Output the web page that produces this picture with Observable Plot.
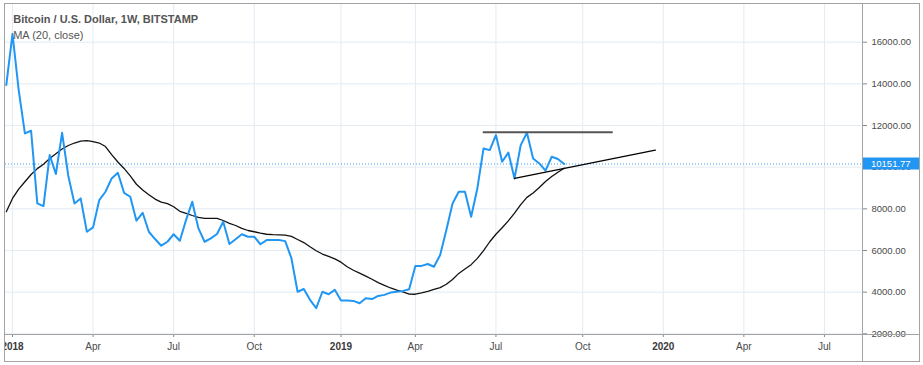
<!DOCTYPE html>
<html><head><meta charset="utf-8">
<script src="https://cdn.jsdelivr.net/npm/d3@7"></script>
<script src="https://cdn.jsdelivr.net/npm/@observablehq/plot@0.6"></script>
<style>
body{margin:0;background:#fff;}
#wrap{position:absolute;left:4px;top:3px;width:914px;height:357px;border:1px solid #a3a3a3;overflow:hidden;}
.sep{position:absolute;background:#a3a3a3;}
</style></head><body><div id="wrap"></div>
<script>
// ---- data (weekly closes, BITSTAMP, bars start Monday) ----
const firstWeek = "2017-12-25";
const closes = [13950,16400,13700,11620,11750,8260,8130,10580,9670,11650,
  9590,8260,8500,6900,7110,8420,8820,9460,9730,8770,
  8580,7430,7810,6900,6550,6230,6420,6780,6470,7460,
  8340,7060,6420,6580,6790,7380,6310,6540,6780,6660,
  6660,6300,6500,6500,6500,6450,5630,4020,4150,3630,
  3230,4020,3900,4110,3600,3600,3580,3470,3710,3670,
  3820,3870,3980,4020,4060,4140,5260,5260,5350,5220,
  5780,6980,8260,8820,8820,7620,8980,10900,10820,11540,
  10260,10700,9460,11060,11650,10420,10180,9830,10500,10390,
  10151.77];
const ma20 = [7860,8500,8950,9300,9650,9930,10140,10420,10640,10870,
  11040,11160,11250,11270,11230,11160,10990,10600,10250,9940,
  9580,9180,8900,8680,8470,8320,8250,8100,7880,7780,
  7680,7590,7540,7540,7540,7440,7300,7200,7060,6960,
  6900,6830,6780,6760,6750,6740,6680,6530,6380,6180,
  5990,5830,5720,5600,5440,5220,5050,4910,4770,4620,
  4460,4330,4200,4100,4010,3910,3900,3960,4040,4130,
  4220,4380,4610,4900,5110,5320,5620,5990,6420,6780,
  7090,7420,7790,8200,8550,8760,9020,9310,9550,9760,
  9950];
const lastPrice = 10151.77;
const yTicks = [2000,4000,6000,8000,10000,12000,14000,16000];
const xTickDates = ["2018-01-01","2018-04-02","2018-07-02","2018-10-01","2019-01-07","2019-04-01","2019-07-01","2019-10-07","2020-01-06","2020-04-06","2020-07-06"];
const xTickLabels = ["2018","Apr","Jul","Oct","2019","Apr","Jul","Oct","2020","Apr","Jul"];
const resistanceDates = ["2019-06-17","2019-11-09"];
const resistanceValues = [11680,11680];
const trendDates = ["2019-07-22","2019-12-28"];
const trendValues = [9460,10820];
const titleText = "Bitcoin / U.S. Dollar, 1W, BITSTAMP";
const maText = "MA (20, close)";

// ---- build tables ----
const DAY = 864e5;
const t0 = new Date(firstWeek);
const rows = closes.map((c,i)=>({date:new Date(+t0 + i*7*DAY), close:c, ma:ma20[i]}));
const resistance = resistanceDates.map((d,i)=>({date:new Date(d), value:resistanceValues[i]}));
const trend = trendDates.map((d,i)=>({date:new Date(d), value:trendValues[i]}));
const ticks = xTickDates.map((d,i)=>({date:new Date(d), label:xTickLabels[i]}));
const labelOf = new Map(ticks.map(t=>[+t.date, t.label]));
const isYear = l => /^\d{4}$/.test(l);
const yearTicks = ticks.filter(t=>isYear(t.label)).map(t=>t.date);
const monthTicks = ticks.filter(t=>!isYear(t.label)).map(t=>t.date);

const W = 914, H = 357, mR = 57, mB = 27;
const jan2018 = +new Date("2018-01-01");
const xDomain = [new Date(jan2018 - 7.906*DAY), new Date(jan2018 + 960*DAY)];

const font = "'Liberation Sans', Arial, sans-serif";
const plot = Plot.plot({
  width: W, height: H,
  marginLeft: 0, marginTop: 0, marginRight: mR, marginBottom: mB,
  style: {fontFamily: font, fontSize: "10px", color: "#4a4a4a", background: "transparent", overflow: "hidden"},
  x: {type: "utc", domain: xDomain, label: null},
  y: {domain: [1967, 17810], label: null},
  marks: [
    Plot.gridX({ticks: ticks.map(t=>t.date), stroke: "#e3ebf3", strokeOpacity: 1}),
    Plot.gridY({ticks: yTicks, stroke: "#e3ebf3", strokeOpacity: 1}),
    Plot.ruleY([lastPrice], {stroke: "#3d9df0", strokeDasharray: "1,2", strokeWidth: 1}),
    Plot.lineY(rows, {x: "date", y: "ma", stroke: "#111", strokeWidth: 1.3}),
    Plot.lineY(rows, {x: "date", y: "close", stroke: "#2196f3", strokeWidth: 2}),
    Plot.line(resistance, {x: "date", y: "value", stroke: "#555", strokeWidth: 2}),
    Plot.line(trend, {x: "date", y: "value", stroke: "#000", strokeWidth: 1.4}),
    Plot.axisX(monthTicks, {tickFormat: d => labelOf.get(+d), tickSize: 3, tickPadding: 5, stroke: "#888", fill: "#4a4a4a", fontSize: 10, label: null}),
    Plot.axisX(yearTicks, {tickFormat: d => labelOf.get(+d), tickSize: 3, tickPadding: 5, stroke: "#888", fill: "#3a3a3a", fontSize: 10, fontWeight: "bold", label: null}),
    Plot.axisY(yTicks, {anchor: "right", tickFormat: d => d.toFixed(2), tickSize: 4, tickPadding: 5, stroke: "#888", fill: "#4a4a4a", fontSize: 9.5, label: null}),
    Plot.text([titleText], {text: d => d, frameAnchor: "top-left", dx: 7.7, dy: 15, textAnchor: "start", lineAnchor: "middle", fontSize: 11, fontWeight: "bold", fill: "#555"}),
    Plot.text([maText], {text: d => d, frameAnchor: "top-left", dx: 7.7, dy: 30.6, textAnchor: "start", lineAnchor: "middle", fontSize: 11, fill: "#555"})
  ]
});

// price label box on the right axis
const yS = plot.scale("y");
const yy = yS.apply(lastPrice);
const svg = d3.select(plot);
svg.append("rect").attr("x", W - mR).attr("y", yy - 6).attr("width", mR).attr("height", 12).attr("fill", "#2196f3");
svg.append("text").attr("x", W - mR + 9).attr("y", yy).attr("dy", "0.35em")
  .attr("text-anchor", "start")
  .attr("fill", "#fff").attr("font-size", 9.5).attr("font-family", font).text(lastPrice.toFixed(2));

const wrap = document.getElementById("wrap");
wrap.appendChild(plot);
const v = document.createElement("div"); v.className = "sep";
Object.assign(v.style, {left: (W - mR) + "px", top: "0px", width: "1px", height: H + "px"});
const h = document.createElement("div"); h.className = "sep";
Object.assign(h.style, {left: "0px", top: (H - mB) + "px", width: W + "px", height: "1px"});
wrap.appendChild(v); wrap.appendChild(h);
</script></body></html>
